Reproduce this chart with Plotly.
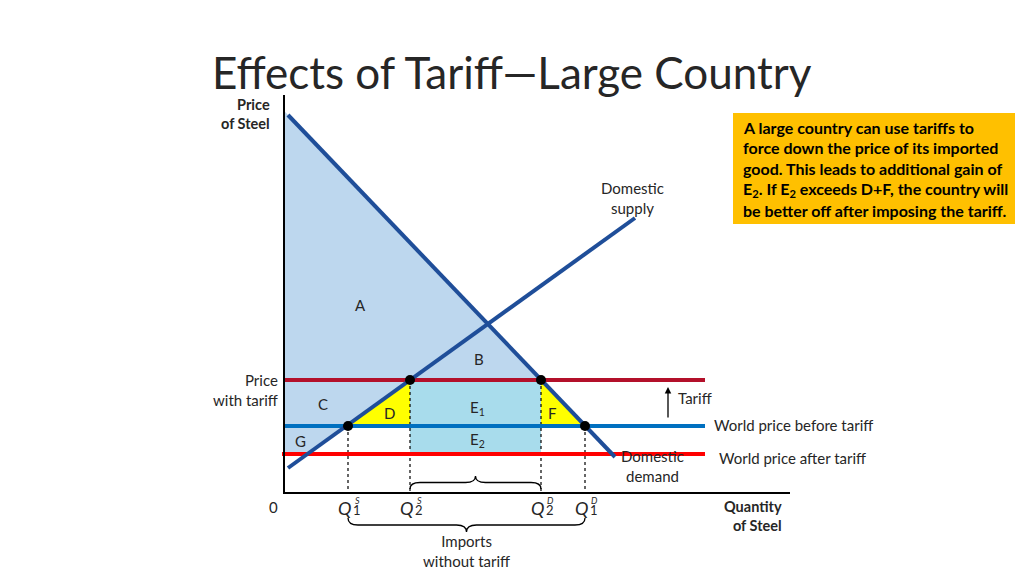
import plotly.graph_objects as go

# ---- data (quantity units, price units) ----
demand_q = [0.4, 33.1]
demand_p = [37.8, 3.6]
supply_q = [0.4, 35.1]
supply_p = [2.5, 27.5]

p_tariff = 11.3      # price with tariff
p_world0 = 6.7       # world price before tariff
p_world1 = 3.9       # world price after tariff
price_line_end = 42.1

q_labels = ["Q1S", "Q2S", "Q2D", "Q1D"]
q_values = [6.4, 12.6, 25.7, 30.1]
q_prices = [6.7, 11.3, 11.3, 6.7]

area_labels = ["A", "B", "C", "D", "E<sub>1</sub>", "F", "E<sub>2</sub>", "G"]
area_q = [7.6, 19.5, 3.9, 10.5, 19.3, 26.8, 19.3, 1.6]
area_p = [18.8, 13.4, 8.9, 8.0, 8.5, 8.0, 5.3, 5.2]

box_lines = [
    "A large country can use tariffs to",
    "force down the price of its imported",
    "good. This leads to additional gain of",
    "E<sub>2</sub>. If E<sub>2</sub> exceeds D+F, the country will",
    "be better off after imposing the tariff.",
]

q_max, p_max = 50.6, 39.8

FONT = "Lato"
DB = "#1F4E99"
TXT = "#262626"


def on_line(xs, ys, p):
    slope = (ys[1] - ys[0]) / (xs[1] - xs[0])
    return xs[0] + (p - ys[0]) / slope


q1s, q2s, q2d, q1d = q_values
sup_at_w1 = on_line(supply_q, supply_p, p_world1)
dem_at_0 = demand_p[0] + (demand_p[1] - demand_p[0]) / (demand_q[1] - demand_q[0]) * (0 - demand_q[0])

fig = go.Figure()

fig.add_trace(go.Scatter(
    x=[0, q2d, q2s, sup_at_w1, 0, 0],
    y=[dem_at_0, p_tariff, p_tariff, p_world1, p_world1, dem_at_0],
    fill="toself", fillcolor="#BDD7EE", line=dict(width=0), mode="lines",
    hoverinfo="skip"))
fig.add_trace(go.Scatter(
    x=[q2s, q2d, q2d, q2s, q2s], y=[p_tariff, p_tariff, p_world1, p_world1, p_tariff],
    fill="toself", fillcolor="#A8DCEC", line=dict(width=0), mode="lines", hoverinfo="skip"))
fig.add_trace(go.Scatter(
    x=[q1s, q2s, q2s, q1s], y=[p_world0, p_tariff, p_world0, p_world0],
    fill="toself", fillcolor="#FFFF00", line=dict(width=0), mode="lines", hoverinfo="skip"))
fig.add_trace(go.Scatter(
    x=[q2d, q2d, q1d, q2d], y=[p_tariff, p_world0, p_world0, p_tariff],
    fill="toself", fillcolor="#FFFF00", line=dict(width=0), mode="lines", hoverinfo="skip"))

for q, p in zip(q_values, q_prices):
    fig.add_trace(go.Scatter(x=[q, q], y=[p, 0], mode="lines",
                             line=dict(color="black", width=1.2, dash="dot"), hoverinfo="skip"))

fig.add_trace(go.Scatter(x=[-0.2, price_line_end], y=[p_world1, p_world1], mode="lines",
                         line=dict(color="#FF0000", width=4)))
fig.add_trace(go.Scatter(x=[-0.1, price_line_end], y=[p_world0, p_world0], mode="lines",
                         line=dict(color="#0070C0", width=4)))
fig.add_trace(go.Scatter(x=[0, price_line_end], y=[p_tariff, p_tariff], mode="lines",
                         line=dict(color="#B3102A", width=4)))

fig.add_trace(go.Scatter(x=demand_q, y=demand_p, mode="lines", line=dict(color=DB, width=4)))
fig.add_trace(go.Scatter(x=supply_q, y=supply_p, mode="lines", line=dict(color=DB, width=4)))

fig.add_trace(go.Scatter(x=q_values, y=q_prices, mode="markers",
                         marker=dict(color="black", size=10)))

fig.add_trace(go.Scatter(x=[0, 0, q_max], y=[p_max, 0, 0], mode="lines",
                         line=dict(color="black", width=2)))


def brace_path(x0, x1, yb, h, r):
    xm = (x0 + x1) / 2
    ym = yb + h / 2
    yt = yb + h
    return (f"M {x0},{yb} Q {x0},{ym} {x0 + r},{ym} L {xm - r},{ym} "
            f"Q {xm},{ym} {xm},{yt} Q {xm},{ym} {xm + r},{ym} "
            f"L {x1 - r},{ym} Q {x1},{ym} {x1},{yb}")


fig.add_shape(type="path", path=brace_path(q2s, q2d, 0.4, 1.3, 1.0),
              xref="x", yref="y", line=dict(color="black", width=1.3))
fig.add_shape(type="path", path=brace_path(q1s, q1d, -2.5, -1.4, 1.0),
              xref="x", yref="y", line=dict(color="black", width=1.3))

fig.add_shape(type="rect", x0=44.9, x1=73.1, y0=26.9, y1=38.0, xref="x", yref="y",
              fillcolor="#FFC000", line=dict(width=0), layer="below")
box_p = [36.6, 34.6, 32.5, 30.4, 28.3]
for txt, p in zip(box_lines, box_p):
    fig.add_annotation(x=45.7, y=p, text=f"<b>{txt}</b>", showarrow=False, xanchor="left",
                       yanchor="middle", font=dict(family=FONT, size=16, color="black"))

ann = dict(showarrow=False, yanchor="middle", font=dict(family=FONT, size=15, color=TXT))

for lab, q, p in zip(area_labels, area_q, area_p):
    fig.add_annotation(x=q, y=p, text=lab, **ann)

fig.add_annotation(x=-1.2, y=37.95, text="<b>Price<br>of Steel</b>", xanchor="right", align="right",
                   showarrow=False, yanchor="middle", font=dict(family=FONT, size=14.5, color=TXT))
fig.add_annotation(x=-0.4, y=10.35, text="Price<br>with tariff", xanchor="right", align="right", **ann)
fig.add_annotation(x=-1.1, y=-1.4, text="0", **ann)
fig.add_annotation(x=50.0, y=-2.3, text="<b>Quantity<br>of Steel</b>", xanchor="right", align="right",
                   showarrow=False, yanchor="middle", font=dict(family=FONT, size=14.5, color=TXT))
fig.add_annotation(x=34.8, y=29.5, text="Domestic<br>supply", **ann)
fig.add_annotation(x=36.8, y=2.75, text="Domestic<br>demand", **ann)
fig.add_annotation(x=39.2, y=9.5, text="Tariff", xanchor="left", **ann)
fig.add_annotation(x=42.8, y=6.8, text="World price before tariff", xanchor="left", **ann)
fig.add_annotation(x=43.3, y=3.5, text="World price after tariff", xanchor="left", **ann)
fig.add_annotation(x=(q1s + q1d) / 2, y=-5.75, text="Imports<br>without tariff", **ann)

fig.add_annotation(x=38.4, y=10.6, ax=38.4, ay=7.4, xref="x", yref="y", axref="x", ayref="y",
                   text="", showarrow=True, arrowhead=2, arrowsize=1, arrowwidth=1.3,
                   arrowcolor="black")

for lab, q in zip(q_labels, q_values):
    fig.add_annotation(x=q, y=-1.5, text="<i>Q</i>", xshift=-3.5, showarrow=False, yanchor="middle",
                       font=dict(family=FONT, size=18, color=TXT))
    fig.add_annotation(x=q, y=-1.5, text=f"<i>{lab[2]}</i>", xshift=9, yshift=8, showarrow=False,
                       yanchor="middle", font=dict(family=FONT, size=9, color=TXT))
    fig.add_annotation(x=q, y=-1.5, text=lab[1], xshift=9, yshift=-2, showarrow=False,
                       yanchor="middle", font=dict(family=FONT, size=13, color=TXT))

# page has an 8px body margin: the figure is 1016x568 placed at (8, 8)
FIG_W, FIG_H = 1016, 568
fig.add_annotation(x=(512 - 8) / FIG_W, y=1 - (72 - 8) / FIG_H, xref="paper", yref="paper",
                   text="Effects of Tariff\u2014Large Country", showarrow=False,
                   xanchor="center", yanchor="middle",
                   font=dict(family=FONT, size=44, color=TXT))

fig.update_layout(
    width=FIG_W, height=FIG_H, margin=dict(l=0, r=0, t=0, b=0),
    paper_bgcolor="white", plot_bgcolor="white", showlegend=False,
    xaxis=dict(range=[-27.6, 74.0], visible=False, fixedrange=True),
    yaxis=dict(range=[-8.3, 48.5], visible=False, fixedrange=True),
)

fig.write_html("out.html")
